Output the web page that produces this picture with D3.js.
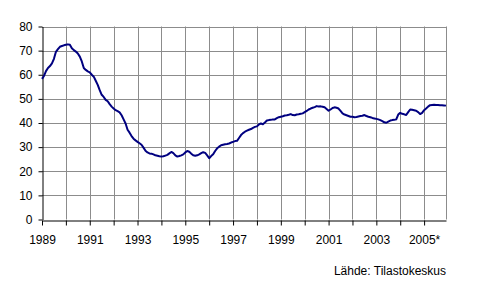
<!DOCTYPE html>
<html>
<head>
<meta charset="utf-8">
<script src="https://cdn.jsdelivr.net/npm/d3@7"></script>
<style>
  body { margin: 0; background: #fff; }
  svg { display: block; font-family: "Liberation Sans", Arial, sans-serif; }
  .tick text { font-size: 12px; fill: #000; }
  .grid line { stroke: #8c8c8c; stroke-width: 1; }
</style>
</head>
<body>
<svg id="chart"></svg>
<script>
const chartSize = { width: 492, height: 287 };
const plot = { left: 42, right: 446, top: 26.5, bottom: 219.5 };

// monthly values, Jan 1989 - Dec 2005
const values1989 = [58.3, 59.5, 61.5, 62.8, 63.6, 64.7, 66.6, 69.5, 70.6, 71.6, 71.9, 72.2];
const values1990 = [72.4, 72.6, 72.4, 71.0, 70.2, 69.6, 68.8, 67.5, 65.5, 62.8, 62.0, 61.4];
const values1991 = [61.0, 60.0, 59.2, 57.5, 55.8, 53.6, 51.7, 50.8, 49.6, 49.0, 47.8, 46.8];
const values1992 = [46.0, 45.3, 44.9, 44.4, 43.2, 41.5, 39.8, 37.2, 36.0, 34.6, 33.5, 32.8];
const values1993 = [32.2, 31.6, 31.0, 29.8, 28.5, 27.8, 27.4, 27.3, 27.0, 26.6, 26.4, 26.2];
const values1994 = [26.1, 26.2, 26.5, 26.8, 27.4, 28.0, 27.5, 26.6, 26.1, 26.3, 26.6, 27.0];
const values1995 = [27.8, 28.4, 28.1, 27.3, 26.6, 26.4, 26.6, 27.0, 27.5, 27.9, 27.6, 26.6];
const values1996 = [25.4, 26.3, 27.0, 28.4, 29.5, 30.2, 30.8, 31.0, 31.2, 31.3, 31.5, 31.9];
const values1997 = [32.2, 32.5, 32.6, 33.8, 35.0, 35.8, 36.4, 36.8, 37.2, 37.5, 38.0, 38.4];
const values1998 = [38.6, 39.4, 39.8, 39.5, 40.2, 41.0, 41.2, 41.3, 41.5, 41.5, 42.0, 42.4];
const values1999 = [42.6, 42.8, 43.1, 43.2, 43.4, 43.7, 43.3, 43.2, 43.5, 43.6, 43.8, 44.0];
const values2000 = [44.5, 45.0, 45.6, 46.0, 46.3, 46.6, 47.0, 46.8, 46.9, 46.7, 46.5, 45.8];
const values2001 = [45.1, 45.6, 46.2, 46.5, 46.3, 46.0, 45.0, 44.0, 43.5, 43.2, 42.9, 42.6];
const values2002 = [42.6, 42.4, 42.5, 42.7, 42.9, 43.0, 43.3, 42.9, 42.6, 42.4, 42.1, 41.9];
const values2003 = [41.7, 41.5, 41.2, 40.8, 40.3, 40.1, 40.6, 41.0, 41.2, 41.3, 41.5, 43.5];
const values2004 = [44.2, 43.8, 43.6, 43.3, 44.5, 45.6, 45.5, 45.3, 45.1, 44.5, 43.7, 44.2];
const values2005 = [45.3, 46.0, 46.8, 47.4, 47.5, 47.6, 47.5, 47.5, 47.4, 47.4, 47.3, 47.2];

const yearLabels = ["1989", "", "1991", "", "1993", "", "1995", "", "1997", "",
  "1999", "", "2001", "", "2003", "", "2005*"];
const yTicks = [0, 10, 20, 30, 40, 50, 60, 70, 80];
const sourceText = "Lähde: Tilastokeskus";

const series = [].concat(values1989, values1990, values1991, values1992, values1993,
  values1994, values1995, values1996, values1997, values1998, values1999, values2000,
  values2001, values2002, values2003, values2004, values2005);

const svg = d3.select("#chart")
  .attr("width", chartSize.width)
  .attr("height", chartSize.height);

const x = d3.scaleLinear()
  .domain([0, series.length - 1])
  .range([plot.left, plot.right]);

const y = d3.scaleLinear()
  .domain([0, 80])
  .range([plot.bottom, plot.top]);

const yearTicks = d3.range(0, series.length, 12);

// grid
const grid = svg.append("g").attr("class", "grid");
grid.selectAll(".h")
  .data(yTicks.filter(d => d > 0))
  .enter().append("line")
  .attr("x1", plot.left).attr("x2", plot.right)
  .attr("y1", d => Math.round(y(d)) + 0.5).attr("y2", d => Math.round(y(d)) + 0.5);
grid.selectAll(".v")
  .data(yearTicks.slice(1).concat([series.length - 1]))
  .enter().append("line")
  .attr("x1", d => Math.round(x(d)) + 0.5).attr("x2", d => Math.round(x(d)) + 0.5)
  .attr("y1", plot.top).attr("y2", plot.bottom);

// axes
const yAxis = d3.axisLeft(y)
  .tickValues(yTicks)
  .tickSize(4)
  .tickSizeOuter(0)
  .tickPadding(6);

svg.append("g")
  .attr("class", "y-axis")
  .attr("transform", `translate(${plot.left + 0.5},0)`)
  .call(yAxis);

const xAxis = d3.axisBottom(x)
  .tickValues(yearTicks)
  .tickSize(5)
  .tickSizeOuter(0)
  .tickPadding(10)
  .tickFormat((d, i) => yearLabels[i]);

svg.append("g")
  .attr("class", "x-axis")
  .attr("transform", `translate(0,${Math.round(plot.bottom) + 0.5})`)
  .call(xAxis);

svg.selectAll(".domain, .tick line").attr("stroke", "#000");
svg.selectAll(".tick text").attr("font-family", null).attr("font-size", null);

// line
const line = d3.line()
  .x((d, i) => x(i))
  .y(d => y(d));

svg.append("path")
  .datum(series)
  .attr("fill", "none")
  .attr("stroke", "#000080")
  .attr("stroke-width", 2)
  .attr("stroke-linejoin", "round")
  .attr("d", line);

svg.append("text")
  .attr("x", plot.right)
  .attr("y", 275)
  .attr("text-anchor", "end")
  .attr("font-size", 12)
  .text(sourceText);
</script>
</body>
</html>
